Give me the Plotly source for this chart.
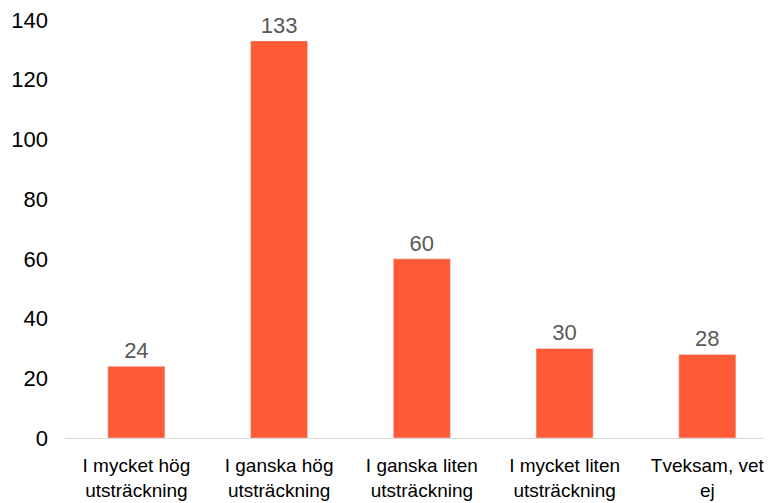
import plotly.graph_objects as go

categories = ["I mycket hög<br>utsträckning", "I ganska hög<br>utsträckning",
              "I ganska liten<br>utsträckning", "I mycket liten<br>utsträckning",
              "Tveksam, vet<br>ej"]
values = [24, 133, 60, 30, 28]
y_ticks = [0, 20, 40, 60, 80, 100, 120, 140]

fig = go.Figure(go.Bar(
    x=list(range(len(categories))), y=values,
    marker_color="#FF5A36",
    text=[str(v) for v in values], textposition="outside",
    textfont=dict(color="#595959", size=22),
    cliponaxis=False,
))

fig.update_layout(
    width=764, height=495,
    margin=dict(l=57, r=0, t=12, b=65),
    paper_bgcolor="white", plot_bgcolor="white",
    font=dict(family="Liberation Sans, Arial, sans-serif", size=20, color="#000000"),
    bargap=0.6,
    showlegend=False,
)
fig.update_xaxes(
    tickmode="array", tickvals=list(range(len(categories))), ticktext=categories,
    range=[-0.5, 4.453], showline=True, linecolor="#D9D9D9", linewidth=1,
    showgrid=False, ticks="", zeroline=False, ticklabelstandoff=10,
    tickfont=dict(size=19), ticklabeloverflow="allow",
)
fig.update_yaxes(
    range=[0, 140], tickvals=y_ticks, showgrid=False, zeroline=False,
    showline=False, ticks="", ticklen=0, ticklabelstandoff=16,
    tickfont=dict(size=22), ticklabeloverflow="allow",
)

fig.write_html("out.html")
